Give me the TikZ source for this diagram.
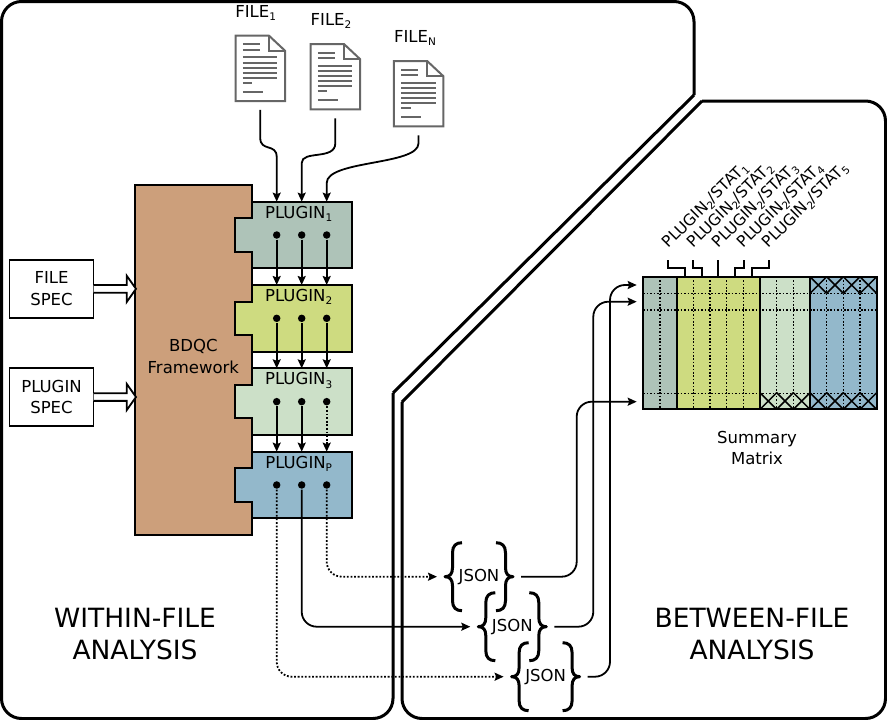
\documentclass[tikz,border=0pt]{standalone}
\usepackage{fontspec}
\setmainfont{DejaVu Sans}
\usepackage{xcolor}
\usetikzlibrary{shapes, arrows.meta, positioning}

\definecolor{frameworkbrown}{HTML}{CC9F7B}
\definecolor{pluginone}{HTML}{AEC3B8}
\definecolor{plugintwo}{HTML}{CEDB80}
\definecolor{pluginthree}{HTML}{CCE0C8}
\definecolor{pluginp}{HTML}{93B8CB}
\definecolor{filegray}{HTML}{666666}

\newcommand{\subtxt}[1]{\raisebox{-0.35ex}{\fontsize{10.5}{10}\selectfont #1}}

% the sheet of paper on a file node
\newcommand{\fileicon}[1]{
    \begin{scope}[shift={(#1.center)}]
        \draw [filegray, line width=2pt, fill=white] (-24.75,-32.6) -- (8.75,-32.6) -- (24.75,-17.6) -- (24.75,32.7) -- (-24.75,32.7) -- cycle;
        \draw [filegray, line width=2pt] (8.75,-32.6) -- (8.75,-17.6) -- (24.75,-17.6);
        \draw [filegray, line width=2pt] (-17.5,-24) -- (-0.25,-24) (-17.5,-18.3) -- (-0.25,-18.3)
            (-17.5,-11) -- (17,-11) (-17.5,-5.6) -- (17,-5.6) (-17.5,-0.6) -- (17,-0.6) (-17.5,4.4) -- (17,4.4) (-17.5,9.4) -- (17,9.4)
            (-17.5,14.4) -- (-8,14.4) (-17.5,23.4) -- (2.5,23.4);
    \end{scope}
}
% the tab that sticks out of a plugin into the framework
\newcommand{\plugintab}[2]{
    \draw [fill=#2, line width=1.8pt] ([yshift=16.67pt]#1.west) -- ++(-16.67,0) -- ++(0,33.33) -- ++(16.67,0);
    \fill [#2] ([yshift=15.8pt]#1.west) rectangle ([xshift=2pt,yshift=-15.8pt]#1.west);
}
\newcommand{\specarrow}[1]{
    \draw [fill=white, line width=1.8pt] (#1.east) ++(0,-3.85) -- ++(33.2,0) -- ++(0,-9.3) -- ++(9.3,13.15) -- ++(-9.3,13.15) -- ++(0,-9.3) -- ++(-33.2,0);
}
\newcommand{\jsonbrace}[1]{
    \begin{scope}[shift={(#1.center)}, line join=round]
        \draw [line width=3pt] (-17,-34) .. controls (-23,-34) and (-26.5,-31) .. (-26.5,-24) -- (-26.5,-9) .. controls (-26.5,-3) and (-29,0) .. (-34,0) .. controls (-29,0) and (-26.5,3) .. (-26.5,9) -- (-26.5,24) .. controls (-26.5,31) and (-23,34) .. (-17,34);
        \draw [line width=3pt] (17,-34) .. controls (23,-34) and (26.5,-31) .. (26.5,-24) -- (26.5,-9) .. controls (26.5,-3) and (29,0) .. (34,0) .. controls (29,0) and (26.5,3) .. (26.5,9) -- (26.5,24) .. controls (26.5,31) and (23,34) .. (17,34);
    \end{scope}
}
\newcommand{\crosscell}[2]{
    \draw [line width=1.5pt] (#1,#2) -- ++(16.67,16.67) ++(-16.67,0) -- ++(16.67,-16.67);
}

\begin{document}
\begin{tikzpicture}[x=1pt, y=-1pt, node distance=83.33pt, font=\fontsize{16.5}{21.5}\selectfont, line width=1.8pt]
    \tikzstyle{plugin} = [rectangle, draw, outer sep=0pt, minimum width=100pt, minimum height=66.67pt]
    \tikzstyle{pluginlabel} = [inner sep=0pt, xshift=-3pt]
    \tikzstyle{spec} = [rectangle, draw, outer sep=0pt, minimum width=84pt, minimum height=58.5pt, align=center]
    \tikzstyle{filebox} = [inner sep=0pt, minimum width=49.5pt, minimum height=65.3pt, outer xsep=0pt, outer ysep=9pt]
    \tikzstyle{dot} = [circle, fill=black, inner sep=0pt, minimum size=7.5pt, node distance=25pt]
    \tikzstyle{json} = [inner sep=0pt, outer sep=0pt, minimum width=84pt, minimum height=68pt]
    \tikzstyle{column} = [rectangle, draw, outer sep=0pt, minimum height=132.6pt]
    \tikzstyle{title} = [font=\fontsize{26.5}{32}\selectfont, align=center]
    \tikzstyle{statlabel} = [rotate=45, anchor=south west, inner sep=0pt, font=\fontsize{15.6}{18}\selectfont]
    \tikzstyle{flow} = [draw, -{Stealth[length=9pt, width=8pt, inset=1.5pt]}, line width=1.8pt]
    \tikzstyle{dotflow} = [flow, dash pattern=on 1.8pt off 1.8pt]
    \tikzstyle{grid} = [line width=1.5pt, dash pattern=on 1.7pt off 1.7pt]
    \tikzstyle{panel} = [draw, line width=3pt]

    \useasboundingbox (0,0) rectangle (887,720);

    % the two analysis panels
    \draw [panel, rounded corners=20pt] (694,95) -- (694,1.5) -- (1.5,1.5) -- (1.5,718.5) -- (393,718.5) -- (393,393);
    \draw [panel] (694,95) -- (393,393);
    \draw [panel, rounded corners=20pt] (702,101) -- (885.5,101) -- (885.5,718.5) -- (402,718.5) -- (402,402);
    \draw [panel] (702,101) -- (402,402);

    \node [title] (within) at (135,634) {WITHIN-FILE\\ANALYSIS};
    \node [title] (between) at (752,634) {BETWEEN-FILE\\ANALYSIS};

    \node [filebox] (file1) at (260.25,68.3) {};
    \node [filebox] (file2) at (335.3,76.7) {};
    \node [filebox] (fileN) at (418.5,93.7) {};
    \fileicon{file1}
    \fileicon{file2}
    \fileicon{fileN}
    \node (file1label) at (255.7,13) {FILE\subtxt{1}};
    \node (file2label) at (331,21) {FILE\subtxt{2}};
    \node (fileNlabel) at (415,38) {FILE\subtxt{N}};

    \node [rectangle, draw, fill=frameworkbrown, outer sep=0pt, minimum width=116.7pt, minimum height=350.5pt] (framework) at (193.35,360) {};
    \node [align=center] (frameworklabel) at (193.35,356.5) {BDQC\\Framework};

    \node [spec] (filespec) at (51.5,288.85) {FILE\\SPEC};
    \node [spec] (pluginspec) at (51.5,397) {PLUGIN\\SPEC};
    \specarrow{filespec}
    \specarrow{pluginspec}

    \node [plugin, fill=pluginone] (plugin1) at (301.7,235) {};
    \node [plugin, fill=plugintwo, below of=plugin1] (plugin2) {};
    \node [plugin, fill=pluginthree, below of=plugin2] (plugin3) {};
    \node [plugin, fill=pluginp, below of=plugin3] (pluginP) {};
    \plugintab{plugin1}{pluginone}
    \plugintab{plugin2}{plugintwo}
    \plugintab{plugin3}{pluginthree}
    \plugintab{pluginP}{pluginp}
    \node [pluginlabel, below=3.5pt of plugin1.north] (plugin1label) {PLUGIN\subtxt{1}};
    \node [pluginlabel, below=3.5pt of plugin2.north] (plugin2label) {PLUGIN\subtxt{2}};
    \node [pluginlabel, below=3.5pt of plugin3.north] (plugin3label) {PLUGIN\subtxt{3}};
    \node [pluginlabel, below=3.5pt of pluginP.north] (pluginPlabel) {PLUGIN\subtxt{P}};

    \node [dot] (dot1b) at (plugin1.center) {};
    \node [dot, left of=dot1b] (dot1a) {};
    \node [dot, right of=dot1b] (dot1c) {};
    \node [dot] (dot2b) at (plugin2.center) {};
    \node [dot, left of=dot2b] (dot2a) {};
    \node [dot, right of=dot2b] (dot2c) {};
    \node [dot] (dot3b) at (plugin3.center) {};
    \node [dot, left of=dot3b] (dot3a) {};
    \node [dot, right of=dot3b] (dot3c) {};
    \node [dot] (dotPb) at (pluginP.center) {};
    \node [dot, left of=dotPb] (dotPa) {};
    \node [dot, right of=dotPb] (dotPc) {};

    \path [flow] (file1.south) -- +(0,28) .. controls +(0,14) and (dot1a |- 0,143) .. (dot1a |- 0,157) -- (dot1a |- plugin1.north);
    \path [flow] (file2.south) -- +(0,25) .. controls +(0,17) and (dot1b |- 0,150) .. (dot1b |- 0,163) -- (dot1b |- plugin1.north);
    \path [flow] (fileN.south) -- +(0,8) .. controls +(0,22) and (dot1c |- 0,160) .. (dot1c |- 0,183) -- (dot1c |- plugin1.north);

    \path [flow] (dot1a) -- (dot1a |- plugin2.north);
    \path [flow] (dot1b) -- (dot1b |- plugin2.north);
    \path [flow] (dot1c) -- (dot1c |- plugin2.north);
    \path [flow] (dot2a) -- (dot2a |- plugin3.north);
    \path [flow] (dot2b) -- (dot2b |- plugin3.north);
    \path [flow] (dot2c) -- (dot2c |- plugin3.north);
    \path [flow] (dot3a) -- (dot3a |- pluginP.north);
    \path [flow] (dot3b) -- (dot3b |- pluginP.north);
    \path [dotflow] (dot3c) -- (dot3c |- pluginP.north);

    \node [json] (json1) at (479,576.7) {JSON};
    \node [json] (json2) at (512.3,626.7) {JSON};
    \node [json] (json3) at (545.6,676.7) {JSON};
    \jsonbrace{json1}
    \jsonbrace{json2}
    \jsonbrace{json3}

    \path [dotflow, rounded corners=15pt] (dotPc) |- (json1.west);
    \path [flow, rounded corners=15pt] (dotPb) |- (json2.west);
    \path [dotflow, rounded corners=15pt] (dotPa) |- (json3.west);

    % summary matrix, one column node per plugin
    \node [column, fill=pluginone, minimum width=33.33pt] (col1) at (660,343) {};
    \node [column, fill=plugintwo, minimum width=83.33pt, right=0pt of col1] (col2) {};
    \node [column, fill=pluginthree, minimum width=50pt, right=0pt of col2] (col3) {};
    \node [column, fill=pluginp, minimum width=66.67pt, right=0pt of col3] (col4) {};

    \draw [grid] (660,276.7) -- (660,409.3) (693.3,276.7) -- (693.3,409.3) (710,276.7) -- (710,409.3) (726.7,276.7) -- (726.7,409.3) (743.3,276.7) -- (743.3,409.3)
        (776.7,276.7) -- (776.7,409.3) (793.3,276.7) -- (793.3,409.3) (826.7,276.7) -- (826.7,409.3) (843.3,276.7) -- (843.3,409.3) (860,276.7) -- (860,409.3);
    \draw [grid] (643.3,293.3) -- (877.3,293.3) (643.3,310) -- (877.3,310) (643.3,393.3) -- (877.3,393.3);

    \crosscell{760}{392.7}
    \crosscell{776.67}{392.7}
    \crosscell{793.33}{392.7}
    \crosscell{810}{392.7}
    \crosscell{826.67}{392.7}
    \crosscell{843.33}{392.7}
    \crosscell{860}{392.7}
    \crosscell{810}{276.7}
    \crosscell{826.67}{276.7}
    \crosscell{843.33}{276.7}
    \crosscell{860}{276.7}

    \node [statlabel] (stat1) at (671,252) {PLUGIN\subtxt{2}/STAT\subtxt{1}};
    \node [statlabel] (stat2) at (696,252) {PLUGIN\subtxt{2}/STAT\subtxt{2}};
    \node [statlabel] (stat3) at (721,252) {PLUGIN\subtxt{2}/STAT\subtxt{3}};
    \node [statlabel] (stat4) at (746,252) {PLUGIN\subtxt{2}/STAT\subtxt{4}};
    \node [statlabel] (stat5) at (771,252) {PLUGIN\subtxt{2}/STAT\subtxt{5}};

    \coordinate (tick1) at (667.7,260);
    \coordinate (tick2) at (693.3,260);
    \coordinate (tick3) at (718.3,260);
    \coordinate (tick4) at (744,260);
    \coordinate (tick5) at (769,260);
    \draw (tick1) -- +(0,8.3) -| (685,0 |- col2.north);
    \draw (tick2) -- +(0,8.3) -| (702,0 |- col2.north);
    \draw (tick3) -- (tick3 |- col2.north);
    \draw (tick4) -- +(0,8.3) -| (735,0 |- col2.north);
    \draw (tick5) -- +(0,8.3) -| (751.7,0 |- col2.north);

    \coordinate (row1) at (636.7,285);
    \coordinate (row2) at (636.7,301.7);
    \coordinate (row3) at (636.7,401.7);
    \coordinate (bend1) at (576.7,401.7);
    \coordinate (bend2) at (593.3,301.7);
    \coordinate (bend3) at (610,285);
    \path [flow, rounded corners=15pt] (json1.east) -| (bend1) -- (row3);
    \path [flow, rounded corners=15pt] (json2.east) -| (bend2) -- (row2);
    \path [flow, rounded corners=15pt] (json3.east) -| (bend3) -- (row1);

    \node [align=center] (summary) at (757,448) {Summary\\Matrix};
\end{tikzpicture}
\end{document}
